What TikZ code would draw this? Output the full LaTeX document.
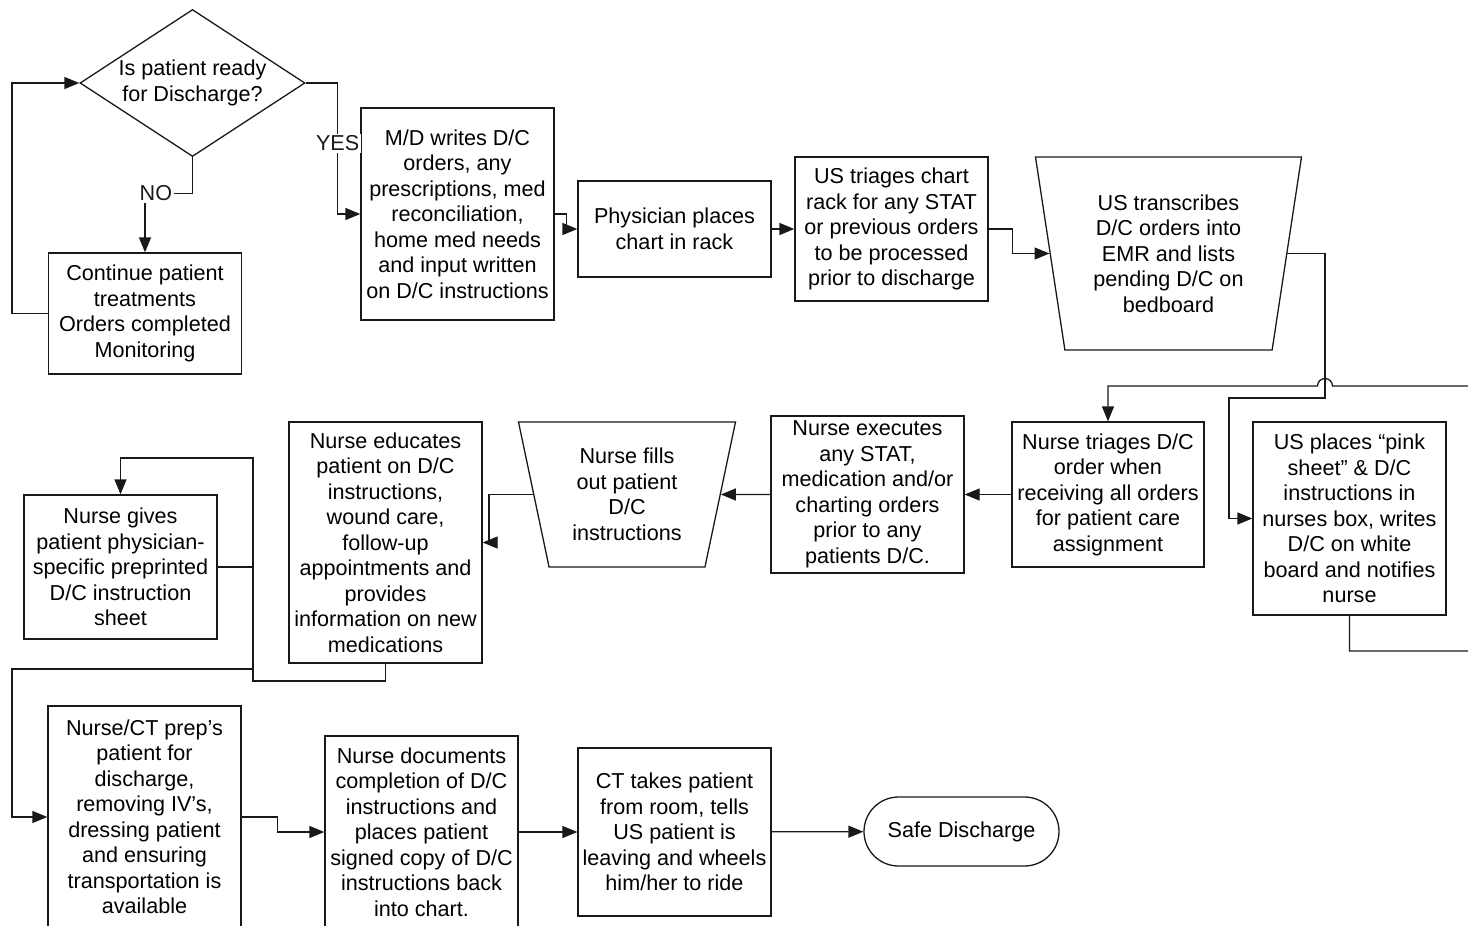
\documentclass[tikz,border=0pt]{standalone}
\usepackage{fontspec}
\setmainfont{Liberation Sans}
\usetikzlibrary{arrows.meta,shapes.geometric,shapes.misc}
\tikzset{
	proc/.style={draw=black!90, line width=0.65pt, align=center, inner sep=0pt, minimum width=96.5pt},
	dec/.style={draw=black!90, line width=0.65pt, align=center, diamond, aspect=1.53, inner sep=0pt, minimum width=112.5pt, minimum height=73.5pt},
	manual/.style={draw=black!90, line width=0.65pt, align=center, trapezium, shape border rotate=180, trapezium stretches body=true, inner sep=0pt},
	term/.style={draw=black!90, line width=0.65pt, rounded rectangle, inner sep=0pt, minimum width=97.5pt, minimum height=34.5pt},
	flow/.style={-{Triangle[length=7.5pt,width=6pt]}, line width=0.65pt, black!90},
	lbl/.style={fill=white, inner sep=1pt}
}
\begin{document}
\begin{tikzpicture}[x=0.5pt, y=-0.5pt, font=\fontsize{10.8}{12.75}\selectfont]
		\useasboundingbox (0,0) rectangle (1468,926);
		% first row
		\node[dec] (ready) at (192.5,83) {Is patient ready\\for Discharge?};
		\node[proc, minimum height=60.5pt] (cont) at (145,313.5) {Continue patient\\treatments\\Orders completed\\Monitoring};
		\node[proc, minimum height=106pt] (mdwrites) at (457.5,214) {M/D writes D/C\\orders, any\\prescriptions, med\\reconciliation,\\home med needs\\and input written\\on D/C instructions};
		\node[proc, minimum height=48pt] (physplaces) at (674.5,229) {Physician places\\chart in rack};
		\node[proc, minimum height=72pt] (ustriages) at (891.5,229) {US triages chart\\rack for any STAT\\or previous orders\\to be processed\\prior to discharge};
		\node[manual, trapezium left angle=76, trapezium right angle=76, minimum width=133pt, minimum height=96.5pt] (ustrans) at (1168.5,253.5) {US transcribes\\D/C orders into\\EMR and lists\\pending D/C on\\bedboard};
		% second row
		\node[proc, minimum height=96.5pt] (usplaces) at (1349.5,518.5) {US places \textquotedblleft pink\\sheet\textquotedblright{} \& D/C\\instructions in\\nurses box, writes\\D/C on white\\board and notifies\\nurse};
		\node[proc, minimum width=96pt, minimum height=72.5pt] (ntriages) at (1108,494.5) {Nurse triages D/C\\order when\\receiving all orders\\for patient care\\assignment};
		\node[proc, minimum height=78.5pt] (nexec) at (867.5,494.5) {Nurse executes\\any STAT,\\medication and/or\\charting orders\\prior to any\\patients D/C.};
		\node[manual, trapezium left angle=71.7, trapezium right angle=71.7, minimum width=108.5pt, minimum height=72.5pt] (nfills) at (627,494.5) {Nurse fills\\out patient\\D/C\\instructions};
		\node[proc, minimum height=120.5pt] (neducates) at (385.5,542.5) {Nurse educates\\patient on D/C\\instructions,\\wound care,\\follow-up\\appointments and\\provides\\information on new\\medications};
		\node[proc, minimum height=72pt] (ngives) at (120.5,567) {Nurse gives\\patient physician-\\specific preprinted\\D/C instruction\\sheet};
		% third row
		\node[proc, minimum height=111pt] (nprep) at (144.5,817) {Nurse/CT prep\textquoteright s\\patient for\\discharge,\\removing IV\textquoteright s,\\dressing patient\\and ensuring\\transportation is\\available};
		\node[proc, minimum height=96pt] (ndocs) at (421.5,832) {Nurse documents\\completion of D/C\\instructions and\\places patient\\signed copy of D/C\\instructions back\\into chart.};
		\node[proc, minimum height=84pt] (cttakes) at (674.5,832) {CT takes patient\\from room, tells\\US patient is\\leaving and wheels\\him/her to ride};
		\node[term] (safe) at (961.5,831.5) {Safe Discharge};
		% turning points
		\coordinate (j1) at (1325,398);
		\coordinate (j2) at (1229,398);
		\coordinate (r1) at (1480,651);
		\coordinate (r2) at (1480,386);
		\coordinate (hop) at (1332.5,386);
		\coordinate (k1) at (253,681);
		\coordinate (k2) at (253,458);
		\coordinate (m1) at (253,669);
		\coordinate (m2) at (12,669);
		% connectors
		\draw[flow] (cont.west) -- ++(-36,0) |- (ready.west);
		\draw[flow] (ready.south) -- ++(0,36) -| node[lbl, pos=0.385] {NO} (cont.north);
		\draw[flow] (ready.east) -- ++(32,0) |- node[lbl, pos=0.23] {YES} (mdwrites.west);
		\draw[flow] (mdwrites.east) -- ++(12,0) |- (physplaces.west);
		\draw[flow] (physplaces) to (ustriages);
		\draw[flow] (ustriages.east) -- ++(24,0) |- (ustrans.west);
		\draw[flow] (ustrans.east) -| (j1) -- (j2) |- (usplaces.west);
		\draw[flow] (usplaces.south) |- (r1) -- (r2) -- (hop) arc[start angle=0, end angle=180, radius=3.75pt] -| (ntriages.north);
		\draw[flow] (ntriages) to (nexec);
		\draw[flow] (nexec.west) to (nfills.east);
		\draw[flow] (nfills.west) -- ++(-44,0) |- (neducates.east);
		\draw[flow] (neducates.south) |- (k1) -- (k2) -| (ngives.north);
		\draw[flow] (ngives.east) -| (m1) -- (m2) |- (nprep.west);
		\draw[flow] (nprep.east) -- ++(36,0) |- (ndocs.west);
		\draw[flow] (ndocs) to (cttakes);
		\draw[flow] (cttakes) to (safe);
	\end{tikzpicture}
\end{document}
